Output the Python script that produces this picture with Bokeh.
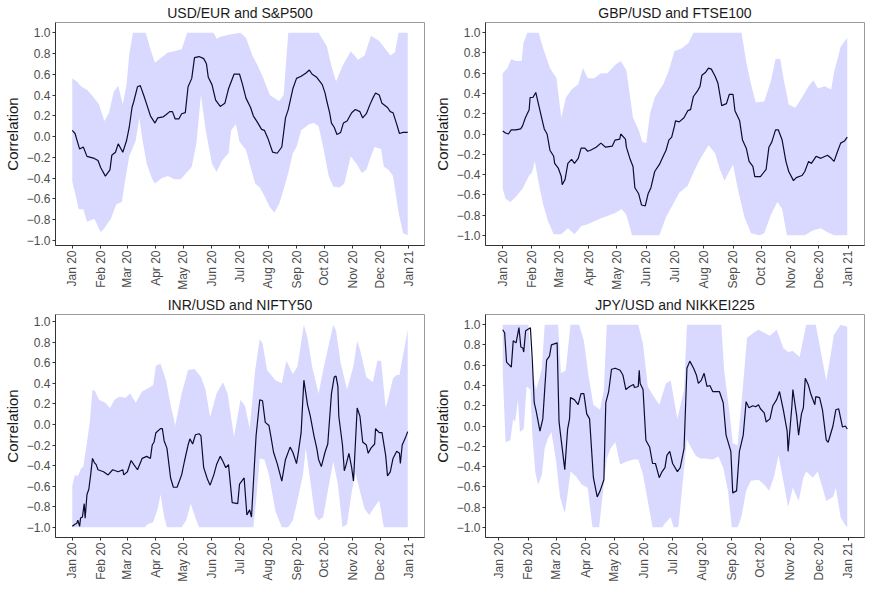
import pandas as pd
from bokeh.plotting import figure
from bokeh.layouts import gridplot
from bokeh.models import FixedTicker, DatetimeTickFormatter, CustomJSTickFormatter, Range1d
from bokeh.embed import file_html
from bokeh.resources import INLINE

BASE = "2020-01-01"

titles = ["USD/EUR and S&P500", "GBP/USD and FTSE100", "INR/USD and NIFTY50", "JPY/USD and NIKKEI225"]
month_ticks = ["2020-01-01", "2020-02-01", "2020-03-01", "2020-04-01", "2020-05-01", "2020-06-01",
               "2020-07-01", "2020-08-01", "2020-09-01", "2020-10-01", "2020-11-01", "2020-12-01",
               "2021-01-01"]
y_ticks = [-1.0, -0.8, -0.6, -0.4, -0.2, 0.0, 0.2, 0.4, 0.6, 0.8, 1.0]
y_label = "Correlation"

# ---- USD/EUR and S&P500 (days since 2020-01-01) ----
eur_mid_days = [0, 3, 8, 12, 16, 24, 28, 31, 36, 41, 43, 47, 50, 55, 59, 62, 65, 67, 71, 74,
                78, 81, 85, 90, 93, 99, 102, 106, 109, 112, 116, 119, 123, 126, 130, 133, 138, 143, 146, 148,
                152, 156, 161, 166, 170, 173, 176, 182, 185, 189, 194, 197, 202, 206, 209, 213, 218, 223, 228, 232,
                235, 240, 244, 249, 254, 258, 261, 266, 272, 275, 277, 280, 282, 285, 288, 292, 295, 299, 304, 308,
                313, 316, 320, 324, 327, 330, 334, 337, 343, 346, 349, 353, 356, 360, 365]
eur_mid = [0.06, 0.03, -0.12, -0.10, -0.19, -0.21, -0.23, -0.30, -0.38, -0.32,
           -0.18, -0.15, -0.07, -0.15, -0.04, 0.09, 0.28, 0.34, 0.48, 0.49,
           0.39, 0.31, 0.20, 0.13, 0.18, 0.19, 0.21, 0.24, 0.24, 0.17,
           0.17, 0.22, 0.23, 0.48, 0.56, 0.76, 0.77, 0.75, 0.70, 0.57,
           0.50, 0.35, 0.29, 0.32, 0.46, 0.53, 0.60, 0.60, 0.51, 0.37,
           0.28, 0.20, 0.13, 0.07, 0.06, -0.02, -0.15, -0.16, -0.10, 0.18,
           0.26, 0.46, 0.56, 0.58, 0.61, 0.64, 0.60, 0.57, 0.50, 0.42,
           0.34, 0.23, 0.13, 0.09, 0.02, 0.04, 0.13, 0.15, 0.23, 0.26,
           0.24, 0.18, 0.22, 0.31, 0.37, 0.42, 0.40, 0.32, 0.28, 0.24,
           0.23, 0.12, 0.03, 0.04, 0.04]
eur_up_days = [0, 5, 10, 16, 22, 29, 35, 40, 45, 50, 55, 59, 62, 66, 80, 85, 90, 97, 104, 111,
               119, 125, 154, 157, 161, 170, 183, 189, 196, 202, 208, 215, 225, 230, 235, 268, 277, 282, 287, 294,
               303, 311, 318, 325, 334, 341, 346, 351, 355, 365]
eur_up = [0.56, 0.53, 0.48, 0.45, 0.39, 0.31, 0.15, 0.23, 0.43, 0.49,
          0.31, 0.50, 0.79, 1.0, 1.0, 0.84, 0.71, 0.76, 0.81, 0.82,
          0.84, 1.0, 1.0, 0.94, 0.96, 0.98, 1.0, 0.95, 0.78, 0.68,
          0.56, 0.40, 0.34, 0.40, 1.0, 1.0, 0.87, 0.68, 0.53, 0.68,
          0.82, 0.74, 0.78, 0.97, 0.92, 0.84, 0.78, 0.81, 1.0, 1.0]
eur_lo_days = [0, 3, 7, 12, 16, 24, 31, 35, 42, 48, 54, 57, 62, 69, 73, 76, 81, 87, 90, 97,
               104, 111, 118, 125, 130, 135, 140, 145, 152, 157, 163, 170, 173, 178, 182, 189, 194, 199, 204, 209,
               215, 220, 225, 230, 235, 240, 244, 249, 258, 263, 268, 273, 279, 284, 291, 296, 303, 310, 315, 320,
               325, 329, 336, 339, 344, 349, 355, 360, 365]
eur_lo = [-0.43, -0.54, -0.70, -0.70, -0.82, -0.79, -0.92, -0.88, -0.79, -0.65,
          -0.63, -0.45, -0.19, -0.04, 0.18, -0.01, -0.26, -0.41, -0.45, -0.40,
          -0.38, -0.41, -0.41, -0.34, -0.29, -0.07, 0.40, 0.07, -0.26, -0.34,
          -0.23, -0.16, 0.06, 0.12, -0.05, -0.13, -0.29, -0.45, -0.49, -0.57,
          -0.68, -0.73, -0.65, -0.51, -0.35, -0.16, -0.10, 0.06, 0.12, 0.13,
          0.10, -0.10, -0.38, -0.48, -0.49, -0.45, -0.19, -0.27, -0.35, -0.32,
          -0.19, -0.10, -0.12, -0.29, -0.32, -0.38, -0.73, -0.93, -0.95]

# ---- GBP/USD and FTSE100 ----
gbp_mid_days = [0, 3, 6, 9, 14, 19, 21, 24, 28, 29, 32, 35, 38, 42, 44, 47, 50, 54, 55, 59,
                62, 63, 66, 69, 73, 76, 80, 83, 87, 90, 93, 99, 104, 109, 116, 119, 124, 125, 130, 131,
                135, 138, 140, 144, 147, 151, 154, 157, 161, 166, 170, 173, 176, 179, 182, 183, 187, 192, 196, 199,
                202, 206, 209, 211, 215, 218, 221, 225, 228, 232, 237, 240, 244, 246, 251, 254, 258, 261, 265, 267,
                273, 279, 282, 285, 289, 292, 296, 300, 303, 308, 311, 317, 320, 324, 327, 332, 337, 344, 348, 351,
                354, 358, 362, 365]
gbp_mid = [0.03, 0.01, 0.0, 0.04, 0.04, 0.05, 0.08, 0.16, 0.24, 0.36,
           0.36, 0.41, 0.29, 0.13, 0.05, 0.0, -0.16, -0.22, -0.29, -0.34,
           -0.42, -0.50, -0.45, -0.29, -0.25, -0.29, -0.24, -0.14, -0.14, -0.17,
           -0.16, -0.13, -0.09, -0.13, -0.12, -0.06, -0.05, 0.0, -0.05, -0.13,
           -0.25, -0.32, -0.53, -0.59, -0.70, -0.71, -0.59, -0.53, -0.37, -0.30,
           -0.22, -0.16, -0.06, -0.03, 0.08, 0.13, 0.12, 0.16, 0.23, 0.24,
           0.37, 0.42, 0.47, 0.58, 0.61, 0.65, 0.64, 0.57, 0.50, 0.28,
           0.30, 0.39, 0.39, 0.23, 0.13, -0.06, -0.14, -0.27, -0.32, -0.42,
           -0.42, -0.35, -0.13, -0.08, 0.04, 0.04, -0.06, -0.27, -0.37, -0.46,
           -0.43, -0.41, -0.37, -0.27, -0.29, -0.22, -0.24, -0.21, -0.24, -0.27,
           -0.19, -0.09, -0.07, -0.03]
gbp_up_days = [0, 5, 9, 14, 20, 22, 26, 38, 43, 50, 57, 62, 67, 73, 80, 85, 90, 97, 104, 111,
               119, 125, 131, 135, 138, 144, 148, 152, 156, 161, 170, 176, 182, 189, 197, 202, 253, 258, 263, 268,
               277, 284, 289, 294, 298, 303, 310, 317, 324, 329, 334, 341, 348, 351, 358, 365]
gbp_up = [0.60, 0.65, 0.74, 0.72, 0.72, 0.90, 1.0, 1.0, 0.84, 0.65,
          0.55, 0.16, 0.36, 0.44, 0.49, 0.65, 0.55, 0.55, 0.60, 0.60,
          0.68, 0.72, 0.63, 0.36, 0.16, 0.04, -0.08, -0.09, 0.20, 0.36,
          0.49, 0.63, 0.82, 0.84, 0.90, 1.0, 1.0, 0.71, 0.49, 0.31,
          0.32, 0.52, 0.74, 0.74, 0.52, 0.29, 0.26, 0.36, 0.47, 0.53,
          0.45, 0.47, 0.44, 0.61, 0.86, 0.95]
gbp_lo_days = [0, 3, 8, 14, 21, 28, 31, 34, 38, 43, 48, 54, 62, 69, 76, 83, 90, 97, 104, 111,
               119, 126, 131, 137, 166, 173, 180, 187, 196, 202, 209, 218, 225, 230, 235, 240, 244, 249, 256, 263,
               272, 277, 284, 291, 296, 301, 320, 329, 337, 344, 351, 365]
gbp_lo = [-0.54, -0.64, -0.67, -0.62, -0.54, -0.41, -0.38, -0.27, -0.48, -0.70,
          -0.86, -0.99, -0.99, -0.93, -0.99, -0.91, -0.89, -0.86, -0.83, -0.81,
          -0.78, -0.74, -0.80, -1.0, -1.0, -0.82, -0.70, -0.58, -0.51, -0.38,
          -0.25, -0.11, -0.19, -0.35, -0.46, -0.37, -0.30, -0.54, -0.82, -0.98,
          -1.0, -0.98, -0.80, -0.67, -0.74, -1.0, -1.0, -0.95, -0.93, -0.97,
          -1.0, -1.0]

# ---- INR/USD and NIFTY50 ----
inr_mid_days = [0, 3, 5, 6, 8, 9, 11, 13, 14, 16, 18, 20, 22, 24, 26, 28, 34, 39, 44, 50,
                55, 56, 60, 64, 67, 71, 76, 81, 85, 87, 89, 91, 96, 98, 100, 103, 107, 110, 114, 119,
                122, 126, 128, 131, 134, 138, 140, 143, 147, 150, 154, 157, 161, 164, 167, 170, 174, 180, 182, 187,
                190, 193, 195, 198, 200, 204, 207, 210, 214, 216, 219, 223, 228, 232, 237, 240, 244, 246, 249, 252,
                256, 259, 263, 266, 268, 271, 275, 278, 282, 285, 287, 289, 290, 294, 296, 298, 301, 304, 306, 310,
                313, 316, 320, 322, 325, 329, 330, 334, 337, 341, 343, 346, 349, 353, 356, 357, 359, 362, 365]
inr_mid = [-0.99, -0.97, -0.96, -0.93, -0.99, -0.91, -0.90, -0.77, -0.91, -0.68,
           -0.63, -0.49, -0.33, -0.37, -0.39, -0.44, -0.46, -0.49, -0.44, -0.46,
           -0.44, -0.49, -0.46, -0.35, -0.39, -0.44, -0.33, -0.31, -0.33, -0.20,
           -0.17, -0.08, -0.04, -0.04, -0.16, -0.23, -0.52, -0.61, -0.61, -0.49,
           -0.36, -0.20, -0.14, -0.19, -0.10, -0.09, -0.11, -0.42, -0.53, -0.59,
           -0.49, -0.39, -0.31, -0.36, -0.42, -0.39, -0.76, -0.77, -0.58, -0.52,
           -0.88, -0.83, -0.90, -0.42, -0.11, 0.24, 0.23, 0.02, -0.01, -0.11,
           -0.27, -0.38, -0.55, -0.34, -0.22, -0.27, -0.38, -0.27, -0.08, 0.43,
           0.19, 0.08, -0.11, -0.23, -0.34, -0.41, -0.27, -0.19, 0.30, 0.46,
           0.47, 0.37, 0.08, -0.20, -0.45, -0.39, -0.28, -0.42, -0.55, 0.16,
           0.08, -0.17, -0.20, -0.28, -0.23, -0.19, -0.04, -0.08, -0.08, -0.30,
           -0.50, -0.46, -0.33, -0.26, -0.28, -0.38, -0.20, -0.14, -0.07]
inr_up_days = [0, 2, 3, 6, 10, 12, 17, 19, 22, 25, 29, 36, 41, 46, 51, 58, 63, 69, 76, 82,
               88, 91, 96, 102, 107, 112, 119, 126, 133, 140, 145, 150, 157, 164, 169, 176, 183, 188, 193, 199,
               204, 207, 212, 221, 228, 233, 240, 245, 252, 256, 261, 268, 273, 278, 284, 287, 292, 299, 306, 310,
               313, 320, 327, 332, 336, 341, 344, 349, 353, 356, 360, 365]
inr_up = [-0.60, -0.52, -0.49, -0.50, -0.42, -0.41, -0.11, 0.02, 0.34, 0.32,
          0.24, 0.21, 0.16, 0.24, 0.27, 0.26, 0.30, 0.21, 0.32, 0.35,
          0.38, 0.57, 0.59, 0.43, 0.19, -0.01, 0.30, 0.53, 0.54, 0.46,
          0.34, 0.07, 0.30, 0.41, 0.30, -0.12, 0.24, 0.18, -0.04, 0.53,
          0.83, 0.79, 0.53, 0.43, 0.40, 0.62, 0.49, 0.56, 0.97, 0.84,
          0.56, 0.30, 0.53, 0.73, 0.97, 0.91, 0.60, 0.34, 0.57, 0.81,
          0.73, 0.46, 0.41, 0.62, 0.62, 0.16, 0.26, 0.45, 0.48, 0.48,
          0.68, 0.92]
inr_lo_days = [0, 79, 82, 88, 93, 96, 100, 103, 119, 124, 129, 134, 138, 197, 200, 204, 209, 214, 221, 228,
               235, 240, 245, 251, 254, 259, 264, 268, 273, 278, 284, 289, 294, 299, 304, 308, 313, 318, 323, 329,
               334, 339, 365]
inr_lo = [-1.0, -1.0, -0.97, -0.95, -0.82, -0.68, -0.90, -1.0, -1.0, -0.93,
          -0.77, -0.91, -1.0, -1.0, -0.74, -0.33, -0.34, -0.49, -0.84, -1.0,
          -1.0, -0.93, -0.74, -0.49, -0.23, -0.55, -0.88, -0.93, -0.90, -0.65,
          -0.36, -0.58, -1.0, -0.97, -0.66, -0.47, -0.65, -0.82, -0.88, -0.80,
          -0.74, -1.0, -1.0]

# ---- JPY/USD and NIKKEI225 ----
jpy_mid_days = [4, 6, 8, 11, 13, 15, 18, 21, 23, 25, 26, 28, 33, 35, 37, 39, 43, 46, 50, 53,
                55, 58, 61, 63, 69, 72, 74, 75, 79, 83, 86, 89, 92, 95, 99, 103, 106, 110, 112, 115,
                118, 122, 127, 130, 133, 137, 141, 142, 146, 147, 148, 151, 154, 158, 161, 164, 168, 171, 174, 176,
                179, 182, 187, 190, 194, 197, 200, 204, 207, 209, 212, 215, 218, 221, 224, 231, 235, 238, 243, 245,
                249, 252, 256, 259, 262, 266, 269, 272, 274, 278, 280, 284, 287, 291, 294, 298, 302, 303, 307, 308,
                312, 314, 317, 319, 321, 324, 327, 331, 332, 336, 339, 343, 345, 350, 353, 356, 360, 363, 365]
jpy_mid = [0.95, 0.92, 0.63, 0.60, 0.58, 0.84, 0.82, 0.97, 0.78, 0.77,
           0.73, 0.94, 0.97, 0.65, 0.23, 0.15, -0.05, 0.07, 0.65, 0.69,
           0.80, 0.81, 0.82, 0.04, -0.43, -0.03, 0.07, 0.28, 0.26, 0.21,
           0.32, 0.32, 0.12, 0.07, -0.51, -0.70, -0.64, -0.53, 0.23, 0.34,
           0.56, 0.57, 0.55, 0.50, 0.36, 0.39, 0.41, 0.38, 0.39, 0.55,
           0.42, 0.36, -0.14, -0.21, -0.37, -0.37, -0.51, -0.45, -0.41, -0.29,
           -0.25, -0.37, -0.45, -0.41, -0.22, 0.57, 0.64, 0.57, 0.50, 0.42,
           0.45, 0.52, 0.39, 0.40, 0.34, 0.34, 0.23, -0.09, -0.25, -0.66,
           -0.64, -0.25, -0.09, 0.24, 0.18, 0.20, 0.19, 0.21, 0.17, 0.13,
           0.04, 0.07, 0.20, 0.26, 0.34, 0.16, -0.05, -0.25, 0.20, 0.36,
           0.10, -0.09, 0.12, 0.18, 0.47, 0.41, 0.31, 0.21, 0.29, 0.28,
           0.16, -0.14, -0.16, 0.0, 0.16, 0.17, -0.01, 0.0, -0.03]
jpy_up_days = [4, 31, 33, 36, 39, 43, 45, 48, 62, 65, 70, 75, 84, 89, 94, 99, 106, 110, 113, 146,
               151, 156, 161, 168, 175, 180, 187, 194, 197, 233, 236, 242, 245, 250, 255, 260, 267, 272, 278, 284,
               291, 298, 303, 308, 315, 322, 332, 337, 343, 346, 351, 358, 365]
jpy_up = [1.0, 1.0, 0.71, 0.49, 0.36, 0.49, 0.57, 1.0, 1.0, 0.52,
          0.55, 1.0, 1.0, 0.84, 0.49, 0.21, 0.16, 0.36, 1.0, 1.0,
          0.81, 0.39, 0.31, 0.21, 0.42, 0.45, 0.07, 0.36, 1.0, 1.0,
          0.55, 0.10, -0.17, -0.19, 0.32, 0.87, 0.92, 0.95, 0.92, 0.89,
          0.95, 0.77, 0.73, 0.74, 0.68, 1.0, 1.0, 0.75, 0.45, 0.61,
          0.90, 1.0, 0.98]
jpy_lo_days = [4, 7, 12, 15, 17, 20, 22, 26, 29, 33, 35, 38, 41, 45, 48, 51, 55, 60, 64, 69,
               72, 75, 81, 87, 93, 98, 105, 108, 113, 117, 122, 127, 134, 141, 146, 151, 156, 161, 171, 175,
               180, 183, 188, 197, 200, 206, 211, 216, 224, 230, 235, 240, 244, 250, 254, 259, 264, 272, 278, 283,
               288, 293, 298, 303, 308, 314, 319, 322, 329, 334, 339, 343, 350, 353, 358, 363, 365]
jpy_lo = [0.52, -0.16, -0.14, 0.07, 0.04, 0.26, -0.06, -0.03, 0.39, 0.36,
          -0.09, -0.45, -0.58, -0.48, -0.22, -0.13, -0.06, -0.35, -0.70, -0.86,
          -0.67, -0.45, -0.50, -0.58, -0.61, -1.0, -1.0, -0.74, -0.32, -0.22,
          -0.16, -0.38, -0.35, -0.33, -0.33, -0.48, -0.74, -1.0, -1.0, -0.95,
          -0.90, -1.0, -1.0, -0.13, -0.19, -0.29, -0.32, -0.32, -0.33, -0.30,
          -0.41, -0.64, -1.0, -1.0, -0.90, -0.64, -0.54, -0.53, -0.58, -0.64,
          -0.51, -0.29, -0.54, -0.80, -0.61, -0.74, -0.51, -0.45, -0.51, -0.45,
          -0.61, -0.74, -0.70, -0.61, -0.90, -0.98, -1.0]

panels = [
    (eur_mid_days, eur_mid, eur_up_days, eur_up, eur_lo_days, eur_lo),
    (gbp_mid_days, gbp_mid, gbp_up_days, gbp_up, gbp_lo_days, gbp_lo),
    (inr_mid_days, inr_mid, inr_up_days, inr_up, inr_lo_days, inr_lo),
    (jpy_mid_days, jpy_mid, jpy_up_days, jpy_up, jpy_lo_days, jpy_lo),
]

FONT = "Liberation Sans"
BAND = "#d9d9ff"
LINE = "#0b0b30"


def to_dt(days):
    return pd.Timestamp(BASE) + pd.to_timedelta(days, unit="D")


def make(title, data, right_col):
    md, mv, ud, uv, ld, lv = data
    all_days = md + ud + ld
    all_vals = mv + uv + lv
    d0, d1 = min(all_days), max(all_days)
    dpad = 0.05 * (d1 - d0)
    v0, v1 = min(all_vals), max(all_vals)
    vpad = 0.05 * (v1 - v0)
    x_range = Range1d(start=to_dt([d0 - dpad])[0], end=to_dt([d1 + dpad])[0])
    y_range = Range1d(start=v0 - vpad, end=v1 + vpad)

    p = figure(width=436 if right_col else 430, height=292, x_axis_type="datetime",
               x_range=x_range, y_range=y_range,
               output_backend="svg", toolbar_location=None,
               min_border_left=8, min_border_right=2 if right_col else 6,
               min_border_top=0, min_border_bottom=2)
    p.title.text = title
    p.title.align = "center"
    p.title.text_font = FONT
    p.title.text_font_size = "14px"
    p.title.text_font_style = "normal"
    p.title.text_color = "#1a1a1a"
    p.title.standoff = 4
    p.title.offset = 0

    px = list(to_dt(ud)) + list(to_dt(ld))[::-1]
    py = list(uv) + list(lv)[::-1]
    p.patch(x=px, y=py, fill_color=BAND, fill_alpha=1.0, line_color=None)
    p.line(x=to_dt(md), y=mv, line_color=LINE, line_width=1.2)

    p.xgrid.visible = False
    p.ygrid.visible = False
    p.background_fill_color = "white"
    p.outline_line_color = "#9a9a9a"
    p.outline_line_width = 1

    p.xaxis.ticker = FixedTicker(ticks=[pd.Timestamp(t).value / 1e6 for t in month_ticks])
    p.xaxis.formatter = DatetimeTickFormatter(days="%b %y", months="%b %y", years="%b %y")
    p.xaxis.major_label_orientation = 3.14159265 / 2
    p.yaxis.ticker = FixedTicker(ticks=y_ticks)
    p.yaxis.formatter = CustomJSTickFormatter(
        code="return (tick < -1e-9 ? '\u2212' : '') + Math.abs(tick).toFixed(1);")
    p.yaxis.axis_label = y_label
    p.yaxis.axis_label_text_font = FONT
    p.yaxis.axis_label_text_font_size = "15px"
    p.yaxis.axis_label_text_font_style = "normal"
    p.yaxis.axis_label_text_color = "#1a1a1a"
    p.yaxis.axis_label_standoff = 3
    for ax in (p.xaxis, p.yaxis):
        ax.axis_line_color = "#333333"
        ax.axis_line_width = 1
        ax.major_tick_line_color = "#333333"
        ax.major_tick_out = 3
        ax.major_tick_in = 0
        ax.minor_tick_line_color = None
        ax.major_label_text_font = FONT
        ax.major_label_text_font_size = "12px"
        ax.major_label_text_color = "#4d4d4d"
        ax.major_label_standoff = 2
    return p


figs = [make(t, d, i % 2 == 1) for i, (t, d) in enumerate(zip(titles, panels))]
grid = gridplot([[figs[0], figs[1]], [figs[2], figs[3]]], toolbar_location=None)

open("out.html", "w").write(file_html(grid, INLINE))
